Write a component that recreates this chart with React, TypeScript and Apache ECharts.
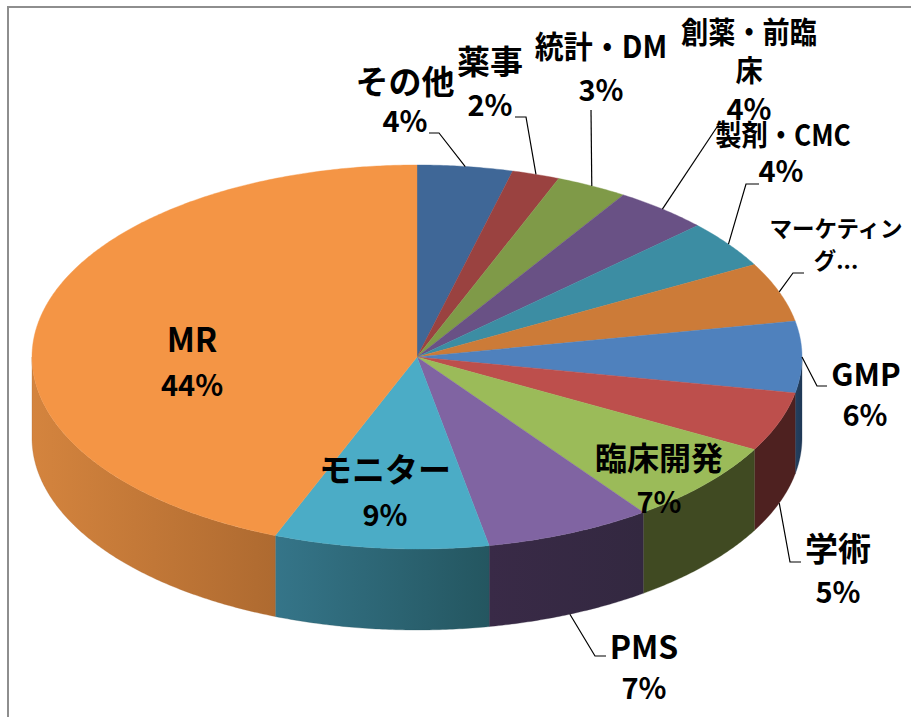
import React, { useEffect, useRef } from "react";
import * as echarts from "echarts";

const categories = ["その他", "薬事", "統計・DM", "創薬・前臨\n床", "製剤・CMC", "マーケティン\nグ...", "GMP", "学術", "臨床開発", "PMS", "モニター", "MR"];
const percents = [4, 2, 3, 4, 4, 5, 6, 5, 7, 7, 9, 44];
const showPercent = [true, true, true, true, true, false, true, true, true, true, true, true];

const topColors = ["#3F6797", "#9A4240", "#7F9A48", "#695185", "#3C8DA3", "#CC7B38", "#4F81BD", "#BD4F4C", "#9BBB59", "#8064A2", "#4BACC6", "#F49545"];
const wallLeft = ["#3F6797", "#9A4240", "#7F9A48", "#695185", "#3C8DA3", "#CC7B38", "#25405F", "#4E2120", "#404A22", "#392A47", "#357589", "#D4843E"];
const wallRight = ["#3F6797", "#9A4240", "#7F9A48", "#695185", "#3C8DA3", "#CC7B38", "#1F3856", "#4E2120", "#404A22", "#332840", "#245660", "#AE6A30"];

// name centre, name font size, line height, horizontal squeeze, percent centre, leader elbow points
const labelLayout = [
  { x: 405, y: 80, size: 33, lh: 33, sx: 1, px: 405, py: 119, elbow: [[439, 133], [429, 133]] },
  { x: 490, y: 60, size: 33, lh: 33, sx: 1, px: 490, py: 103, elbow: [[526, 117], [515, 117]] },
  { x: 601, y: 45, size: 31, lh: 33, sx: 0.935, px: 601, py: 88, elbow: [[591, 110]] },
  { x: 749, y: 49, size: 30, lh: 38, sx: 0.907, px: 749, py: 107, elbow: [[717, 127]] },
  { x: 783, y: 133, size: 29, lh: 33, sx: 0.905, px: 781, py: 169, elbow: [[746, 184], [759, 184]] },
  { x: 836, y: 243, size: 22.5, lh: 32, sx: 1, px: 0, py: 0, elbow: [[793, 273], [804, 273]] },
  { x: 866, y: 372, size: 31, lh: 33, sx: 1, px: 865, py: 413, elbow: [[817, 386], [827, 386]] },
  { x: 838, y: 547, size: 33, lh: 33, sx: 1, px: 838, py: 590, elbow: [[790, 562], [801, 562]] },
  { x: 659, y: 456, size: 32, lh: 33, sx: 1, px: 659, py: 500, elbow: [] },
  { x: 644, y: 645, size: 32, lh: 33, sx: 1, px: 644, py: 686, elbow: [[595, 656], [606, 656]] },
  { x: 385, y: 468, size: 33, lh: 33, sx: 1, px: 385, py: 513, elbow: [] },
  { x: 192, y: 338, size: 33, lh: 33, sx: 1, px: 192, py: 383, elbow: [] },
];
const PCT_SIZE = 29;
const FONT = "'Noto Sans CJK JP'";

const CX = 417;
const CY = 357;
const RX = 385;
const RY = 192;
const DEPTH = 81;

const total = percents.reduce((a, b) => a + b, 0);
const startPct = (i: number) => percents.slice(0, i).reduce((a, b) => a + b, 0);

const rim = (deg: number, dy = 0): number[] => {
  const r = (deg * Math.PI) / 180;
  return [CX + RX * Math.sin(r), CY - RY * Math.cos(r) + dy];
};

const arcPts = (a0: number, a1: number, dy = 0) => {
  const n = Math.max(2, Math.ceil(Math.abs(a1 - a0) * 2));
  const pts: number[][] = [];
  for (let k = 0; k <= n; k++) pts.push(rim(a0 + ((a1 - a0) * k) / n, dy));
  return pts;
};

export default function App() {
  const ref = useRef<HTMLDivElement>(null);
  useEffect(() => {
    document.body.style.margin = "0";
    const chart = echarts.init(ref.current!, null, { renderer: "svg" });
    chart.setOption({
      animation: false,
      backgroundColor: "#ffffff",
      graphic: [
        {
          type: "polyline",
          silent: true,
          shape: { points: [[8, 717], [8, 7], [911, 7]] },
          style: { stroke: "#8E8E8E", lineWidth: 2, fill: "none" },
        },
      ],
      series: [
        {
          type: "custom",
          coordinateSystem: "none",
          z: 2,
          data: percents.map((p, i) => [i, p]),
          renderItem: (_params: any, api: any) => {
            const i = api.value(0) as number;
            const p = api.value(1) as number;
            const a0 = (startPct(i) / total) * 360;
            const a1 = a0 + (p / total) * 360;
            const children: any[] = [];
            const w0 = Math.max(a0, 90);
            const w1 = Math.min(a1, 270);
            if (w1 > w0) {
              const pts = [...arcPts(w0, w1), ...arcPts(w1, w0, DEPTH)];
              const fill = new echarts.graphic.LinearGradient(0, 0, 1, 0, [
                { offset: 0, color: wallLeft[i] },
                { offset: 1, color: wallRight[i] },
              ]);
              children.push({
                type: "polygon",
                shape: { points: pts },
                style: { fill, stroke: wallRight[i], lineWidth: 0.3 },
              });
            }
            children.push({
              type: "polygon",
              shape: { points: [[CX, CY], ...arcPts(a0, a1)] },
              style: { fill: topColors[i], stroke: topColors[i], lineWidth: 0.4 },
            });
            return { type: "group", children };
          },
        },
        {
          type: "custom",
          coordinateSystem: "none",
          z: 3,
          data: percents.map((p, i) => [i, p]),
          renderItem: (_params: any, api: any) => {
            const i = api.value(0) as number;
            const p = api.value(1) as number;
            const mid = ((startPct(i) + p / 2) / total) * 360;
            const lay = labelLayout[i];
            const children: any[] = [];
            if (lay.elbow.length) {
              children.push({
                type: "polyline",
                shape: { points: [rim(mid, mid > 90 ? DEPTH : 0), ...lay.elbow] },
                style: { stroke: "#000000", lineWidth: 1.2, fill: "none" },
              });
            }
            children.push({
              type: "text",
              x: lay.x,
              y: lay.y,
              scaleX: lay.sx,
              style: {
                text: categories[i],
                fill: "#000000",
                fontFamily: FONT,
                fontWeight: "bold",
                fontSize: lay.size,
                lineHeight: lay.lh,
                align: "center",
                verticalAlign: "middle",
              },
            });
            if (showPercent[i]) {
              children.push({
                type: "text",
                x: lay.px,
                y: lay.py,
                style: {
                  text: `${p}%`,
                  fill: "#000000",
                  fontFamily: FONT,
                  fontWeight: "bold",
                  fontSize: PCT_SIZE,
                  align: "center",
                  verticalAlign: "middle",
                },
              });
            }
            return { type: "group", children };
          },
        },
      ],
    });
    return () => chart.dispose();
  }, []);
  return (
    <div
      ref={ref}
      style={{ position: "absolute", left: 0, top: 0, width: 911, height: 717 }}
    />
  );
}
